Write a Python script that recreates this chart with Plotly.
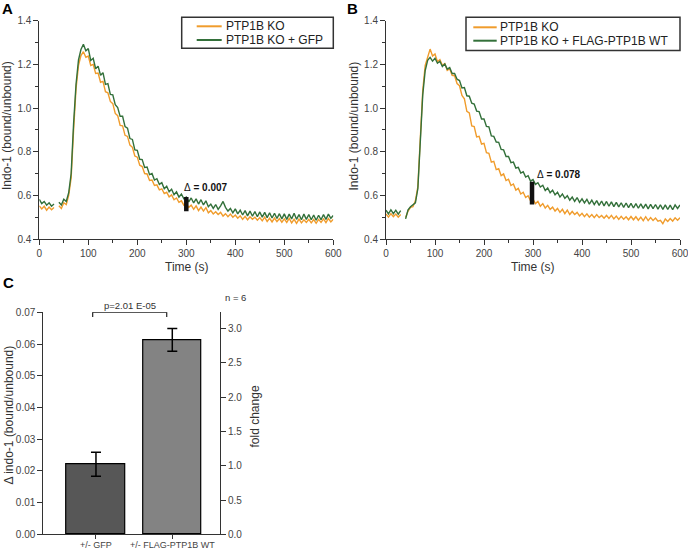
import plotly.graph_objects as go

# time axis of the Indo-1 traces (s), one reading every 5 s
time_s = list(range(0, 601, 5))

# panel A: PTP1B KO vs PTP1B KO + GFP
a_ko = [
    0.552, 0.538, 0.550, 0.532, 0.546, 0.534, 0.544, None, 0.552, 0.540,
    0.566, 0.558, 0.600, 0.680, 0.900, 1.090, 1.195, 1.240, 1.258, 1.232,
    1.238, 1.195, 1.200, 1.158, 1.160, 1.118, 1.122, 1.075, 1.070, 1.030,
    1.020, 0.975, 0.965, 0.920, 0.918, 0.875, 0.870, 0.830, 0.820, 0.780,
    0.775, 0.738, 0.732, 0.700, 0.698, 0.668, 0.670, 0.645, 0.648, 0.625,
    0.630, 0.608, 0.614, 0.593, 0.602, 0.580, 0.588, 0.568, 0.575, 0.555,
    0.562, 0.545, 0.555, 0.536, 0.552, 0.530, 0.546, 0.528, 0.544, 0.520,
    0.530, 0.515, 0.525, 0.512, 0.522, 0.505, 0.516, 0.502, 0.514, 0.500,
    0.510, 0.495, 0.506, 0.490, 0.504, 0.488, 0.502, 0.490, 0.500, 0.486,
    0.498, 0.483, 0.500, 0.480, 0.495, 0.478, 0.496, 0.480, 0.493, 0.477,
    0.492, 0.476, 0.494, 0.474, 0.490, 0.472, 0.491, 0.474, 0.488, 0.476,
    0.490, 0.474, 0.489, 0.472, 0.490, 0.476, 0.492, 0.475, 0.494, 0.478,
    0.490,
]
a_gfp = [
    0.582, 0.562, 0.572, 0.555, 0.566, 0.550, 0.560, None, 0.568, 0.556,
    0.582, 0.572, 0.612, 0.700, 0.930, 1.110, 1.220, 1.268, 1.292, 1.262,
    1.272, 1.218, 1.228, 1.180, 1.192, 1.150, 1.162, 1.108, 1.112, 1.062,
    1.060, 1.015, 1.002, 0.962, 0.962, 0.915, 0.908, 0.860, 0.856, 0.808,
    0.806, 0.765, 0.764, 0.728, 0.730, 0.695, 0.700, 0.670, 0.676, 0.650,
    0.658, 0.630, 0.642, 0.616, 0.628, 0.603, 0.616, 0.592, 0.606, 0.584,
    0.592, 0.570, 0.588, 0.565, 0.584, 0.560, 0.580, 0.556, 0.575, 0.548,
    0.560, 0.540, 0.558, 0.536, 0.552, 0.572, 0.545, 0.528, 0.540, 0.520,
    0.538, 0.515, 0.532, 0.510, 0.530, 0.506, 0.528, 0.504, 0.526, 0.502,
    0.524, 0.500, 0.522, 0.498, 0.520, 0.496, 0.518, 0.494, 0.516, 0.492,
    0.515, 0.490, 0.514, 0.492, 0.518, 0.490, 0.512, 0.488, 0.514, 0.490,
    0.512, 0.488, 0.510, 0.486, 0.509, 0.488, 0.512, 0.490, 0.514, 0.495,
    0.508,
]

# panel B: PTP1B KO vs PTP1B KO + FLAG-PTP1B WT
b_ko = [
    0.515, 0.500, 0.516, 0.502, 0.514, 0.500, 0.512, None, 0.498, 0.528,
    0.545, 0.548, 0.575, 0.640, 0.860, 1.080, 1.195, 1.232, 1.270, 1.238,
    1.248, 1.212, 1.222, 1.196, 1.204, 1.172, 1.180, 1.150, 1.148, 1.112,
    1.102, 1.058, 1.042, 0.985, 0.978, 0.918, 0.915, 0.868, 0.870, 0.835,
    0.838, 0.795, 0.792, 0.752, 0.756, 0.718, 0.722, 0.690, 0.698, 0.668,
    0.674, 0.645, 0.652, 0.624, 0.632, 0.606, 0.614, 0.590, 0.598, 0.575,
    0.582, 0.562, 0.572, 0.550, 0.562, 0.542, 0.554, 0.536, 0.546, 0.528,
    0.540, 0.522, 0.536, 0.516, 0.532, 0.512, 0.526, 0.512, 0.522, 0.506,
    0.518, 0.502, 0.515, 0.500, 0.512, 0.498, 0.512, 0.498, 0.508, 0.495,
    0.508, 0.494, 0.508, 0.492, 0.505, 0.490, 0.504, 0.491, 0.502, 0.488,
    0.503, 0.488, 0.502, 0.486, 0.500, 0.484, 0.502, 0.484, 0.498, 0.485,
    0.496, 0.482, 0.486, 0.470, 0.492, 0.480, 0.494, 0.482, 0.497, 0.486,
    0.498,
]
b_wt = [
    0.532, 0.515, 0.534, 0.516, 0.532, 0.514, 0.530, None, 0.492, 0.534,
    0.548, 0.556, 0.566, 0.630, 0.830, 1.060, 1.172, 1.218, 1.232, 1.215,
    1.228, 1.205, 1.214, 1.190, 1.202, 1.178, 1.185, 1.158, 1.158, 1.132,
    1.126, 1.092, 1.094, 1.056, 1.054, 1.022, 1.018, 0.986, 0.984, 0.950,
    0.950, 0.916, 0.914, 0.872, 0.870, 0.844, 0.843, 0.810, 0.808, 0.778,
    0.778, 0.750, 0.752, 0.725, 0.728, 0.702, 0.708, 0.684, 0.690, 0.665,
    0.672, 0.650, 0.658, 0.638, 0.646, 0.622, 0.634, 0.612, 0.624, 0.602,
    0.614, 0.592, 0.606, 0.586, 0.598, 0.578, 0.592, 0.572, 0.590, 0.568,
    0.584, 0.565, 0.582, 0.560, 0.578, 0.558, 0.576, 0.554, 0.574, 0.552,
    0.572, 0.550, 0.570, 0.548, 0.568, 0.547, 0.566, 0.545, 0.565, 0.544,
    0.563, 0.542, 0.562, 0.541, 0.561, 0.540, 0.560, 0.538, 0.559, 0.539,
    0.558, 0.537, 0.557, 0.536, 0.556, 0.535, 0.555, 0.534, 0.556, 0.540,
    0.556,
]

# panel C: bar summary
bar_labels = ["+/- GFP", "+/- FLAG-PTP1B WT"]
bar_values = [0.0221, 0.0613]
bar_err = [0.0038, 0.0036]
fold_change = [1.0, 2.77]

ORANGE = "#F09C2C"
GREEN = "#33703A"
FONT = "Liberation Sans, Arial, sans-serif"
W, H = 688, 553


def px(x):
    return x / W


def py(y):
    return 1 - y / H


fig = go.Figure()

fig.add_trace(go.Scatter(x=time_s, y=a_ko, mode="lines", name="PTP1B KO",
                         line=dict(color=ORANGE, width=1.4), xaxis="x", yaxis="y"))
fig.add_trace(go.Scatter(x=time_s, y=a_gfp, mode="lines", name="PTP1B KO + GFP",
                         line=dict(color=GREEN, width=1.4), xaxis="x", yaxis="y"))
fig.add_trace(go.Scatter(x=time_s, y=b_ko, mode="lines", name="PTP1B KO",
                         line=dict(color=ORANGE, width=1.4), xaxis="x2", yaxis="y2"))
fig.add_trace(go.Scatter(x=time_s, y=b_wt, mode="lines", name="PTP1B KO + FLAG-PTP1B WT",
                         line=dict(color=GREEN, width=1.4), xaxis="x2", yaxis="y2"))

fig.add_trace(go.Bar(x=[0, 1], y=bar_values, width=0.77,
                     marker=dict(color=["#575757", "#838383"], line=dict(color="black", width=1.2)),
                     error_y=dict(type="data", array=bar_err, color="black", thickness=1.5, width=5),
                     xaxis="x3", yaxis="y3"))
fig.add_trace(go.Scatter(x=[0, 1], y=fold_change, mode="markers", marker=dict(opacity=0),
                         xaxis="x3", yaxis="y4", hoverinfo="skip"))

axis_common = dict(showline=True, linecolor="#333", linewidth=1, ticks="outside", ticklen=5,
                   tickcolor="#333", tickwidth=1, showgrid=False, zeroline=False, automargin=False,
                   tickfont=dict(size=10, color="#444", family=FONT))

ya = [20.7, 239]
fig.update_layout(
    width=W, height=H,
    margin=dict(l=0, r=0, t=0, b=0),
    paper_bgcolor="white", plot_bgcolor="white",
    font=dict(family=FONT, color="#333"),
    showlegend=False,
    xaxis=dict(domain=[px(39.3), px(333.3)], range=[0, 600], dtick=100, anchor="y",
               minor=dict(ticks="outside", ticklen=3, dtick=50, tickcolor="#333"), **axis_common),
    yaxis=dict(domain=[py(ya[1]), py(ya[0])], range=[0.4, 1.4], dtick=0.2, tickformat=".1f", anchor="x",
               minor=dict(ticks="outside", ticklen=3, dtick=0.1, tickcolor="#333"), **axis_common),
    xaxis2=dict(domain=[px(386), px(680)], range=[0, 600], dtick=100, anchor="y2",
                ticklabeloverflow="allow",
                minor=dict(ticks="outside", ticklen=3, dtick=50, tickcolor="#333"), **axis_common),
    yaxis2=dict(domain=[py(ya[1]), py(ya[0])], range=[0.4, 1.4], dtick=0.2, tickformat=".1f", anchor="x2",
                minor=dict(ticks="outside", ticklen=3, dtick=0.1, tickcolor="#333"), **axis_common),
    xaxis3=dict(domain=[px(43.3), px(220)], range=[-0.69, 1.625], anchor="y3",
                tickvals=[0, 1], ticktext=bar_labels, **axis_common),
    yaxis3=dict(domain=[py(534.3), py(312.3)], range=[0, 0.07], dtick=0.01, tickformat=".2f",
                anchor="x3", **axis_common),
    yaxis4=dict(range=[0, 3.238], dtick=0.5, tickformat=".1f", overlaying="y3", side="right",
                anchor="x3", **axis_common),
    bargap=0,
)
fig.update_layout(xaxis3_tickfont_size=9, xaxis3_ticklen=4, xaxis3_ticklabelstandoff=-2)

# hand-drawn legend boxes (the compact row spacing of the original)
legends = [
    dict(box=(181.7, 17.3, 333.3, 48.3), line_x=(196.7, 221.7), rows=(26.3, 40.0), text_x=224,
         labels=["PTP1B KO", "PTP1B KO + GFP"]),
    dict(box=(466.0, 17.3, 680.0, 50.5), line_x=(473.3, 496.7), rows=(27.3, 40.7), text_x=498,
         labels=["PTP1B KO", "PTP1B KO + FLAG-PTP1B WT"]),
]
for lg in legends:
    x0, y0, x1, y1 = lg["box"]
    fig.add_shape(type="rect", xref="paper", yref="paper", x0=px(x0), x1=px(x1), y0=py(y1), y1=py(y0),
                  line=dict(color="#333", width=1.5), fillcolor="white", layer="above")
    for row_y, col, label in zip(lg["rows"], [ORANGE, GREEN], lg["labels"]):
        fig.add_shape(type="line", xref="paper", yref="paper", x0=px(lg["line_x"][0]), x1=px(lg["line_x"][1]),
                      y0=py(row_y), y1=py(row_y), line=dict(color=col, width=2), layer="above")
        fig.add_annotation(xref="paper", yref="paper", x=px(lg["text_x"]), y=py(row_y), text=label,
                           xanchor="left", yanchor="middle", showarrow=False,
                           font=dict(family=FONT, size=12, color="#222"))

# delta markers at t = 300 s
fig.add_shape(type="line", xref="x", yref="y", x0=300, x1=300, y0=0.527, y1=0.592,
              line=dict(color="#111", width=4.5))
fig.add_shape(type="line", xref="x2", yref="y2", x0=298, x1=298, y0=0.558, y1=0.662,
              line=dict(color="#111", width=4.5))

# p-value bracket in panel C
for shp in [dict(x0=-0.043, x1=0.927, y0=0.07, y1=0.07),
            dict(x0=-0.043, x1=-0.043, y0=0.0685, y1=0.0715),
            dict(x0=0.927, x1=0.927, y0=0.0685, y1=0.0715)]:
    fig.add_shape(type="line", xref="x3", yref="y3", line=dict(color="#222", width=1.2), **shp)

annots = [
    dict(text="<b>A</b>", x=px(0), y=py(8.5), xanchor="left", font=dict(size=15, color="black")),
    dict(text="<b>B</b>", x=px(345), y=py(8.5), xanchor="left", font=dict(size=15, color="black")),
    dict(text="<b>C</b>", x=px(1), y=py(282.5), xanchor="left", font=dict(size=15, color="black")),
    dict(text="Indo-1 (bound/unbound)", x=px(7), y=py(126), textangle=-90, font=dict(size=12)),
    dict(text="Indo-1 (bound/unbound)", x=px(353.5), y=py(126), textangle=-90, font=dict(size=12)),
    dict(text="Time (s)", x=px(186.5), y=py(266.5), font=dict(size=12)),
    dict(text="Time (s)", x=px(533), y=py(266.5), font=dict(size=12)),
    dict(text="Δ indo-1 (bound/unbound)", x=px(8.5), y=py(415), textangle=-90, font=dict(size=12)),
    dict(text="fold change", x=px(254), y=py(416.5), textangle=-90, font=dict(size=12)),
    dict(text="p=2.01 E-05", x=px(130), y=py(305.5), font=dict(size=9.5)),
    dict(text="n = 6", x=px(235), y=py(297), font=dict(size=9.5)),
    dict(text="Δ<b> = 0.007</b>", x=px(181.5), y=py(187.5), xanchor="left", font=dict(size=10, color="#111")),
    dict(text="Δ<b> = 0.078</b>", x=px(535), y=py(174), xanchor="left", font=dict(size=10, color="#111")),
]
for a in annots:
    a.setdefault("xanchor", "center")
    fig.add_annotation(xref="paper", yref="paper", yanchor="middle", showarrow=False,
                       font_family=FONT, **a)

# drop the browser's default 8px body margin so the figure fills the window exactly
fig.write_html("out.html", config={"displayModeBar": False},
               post_script="document.body.style.margin='0';document.body.style.overflow='hidden';")
